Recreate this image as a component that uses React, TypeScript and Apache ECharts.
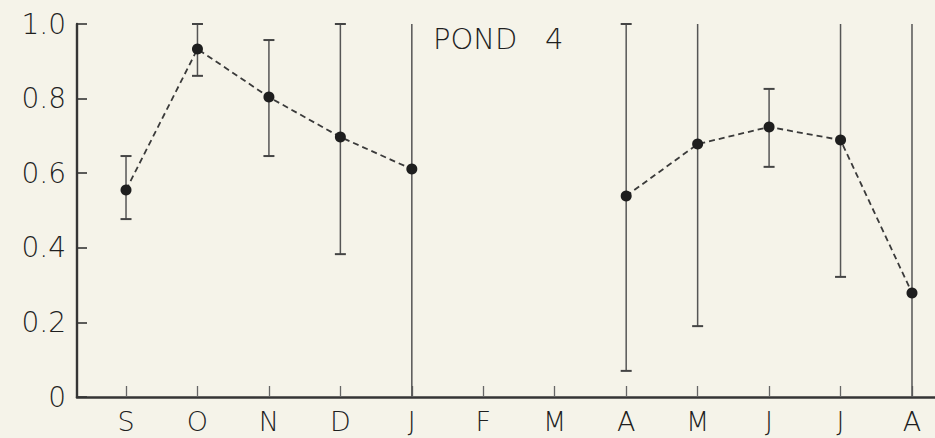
import React, { useEffect, useRef } from "react";
import * as echarts from "echarts";

const months = ["S", "O", "N", "D", "J", "F", "M", "A", "M", "J", "J", "A"];
const means: (number | null)[] = [0.555, 0.933, 0.804, 0.697, 0.611, null, null, 0.539, 0.678, 0.724, 0.689, 0.279];
const lows: (number | null)[] = [0.477, 0.861, 0.646, 0.383, 0, null, null, 0.07, 0.19, 0.617, 0.322, 0];
const highs: (number | null)[] = [0.646, 1.0, 0.957, 1.0, 1.0, null, null, 1.0, 1.0, 0.826, 1.0, 1.0];
const lowCaps = [true, true, true, true, false, false, false, true, true, true, true, false];
const highCaps = [true, true, true, true, false, false, false, true, false, true, false, false];
const yTicks = [0, 0.2, 0.4, 0.6, 0.8, 1.0];
const titleText = "POND   4";

const INK = "#353535";
const TEXT = "#1f1f1f";
const FONT = "DejaVu Sans";
const WEIGHT = 200;

export default function App() {
  const ref = useRef<HTMLDivElement>(null);
  useEffect(() => {
    document.body.style.margin = "0";
    document.body.style.background = "#f5f3e9";
    const chart = echarts.init(ref.current!, null, { renderer: "svg" });
    const lineData = means.map((v, i) => [i, v === null ? "-" : v]);
    const errData: any[] = [];
    months.forEach((_, i) => {
      if (lows[i] !== null && highs[i] !== null) {
        errData.push([i, lows[i], highs[i], lowCaps[i] ? 1 : 0, highCaps[i] ? 1 : 0]);
      }
    });
    chart.setOption({
      animation: false,
      backgroundColor: "#f5f3e9",
      title: {
        text: titleText,
        left: 428,
        top: 19,
        textStyle: { fontFamily: FONT, fontSize: 29, fontWeight: WEIGHT, color: TEXT },
      },
      grid: { left: 77, right: 0, top: 24, bottom: 41, containLabel: false },
      xAxis: {
        type: "value",
        min: -0.686,
        max: 11.322,
        splitLine: { show: false },
        axisLine: { show: true, onZero: false, lineStyle: { color: INK, width: 2.6 } },
        axisTick: {
          show: true,
          inside: true,
          length: 11,
          customValues: months.map((_, i) => i),
          lineStyle: { color: "#666", width: 1.3 },
        },
        axisLabel: {
          customValues: months.map((_, i) => i),
          formatter: (v: number) => months[Math.round(v)] ?? "",
          fontFamily: FONT,
          fontSize: 27,
          fontWeight: WEIGHT,
          color: TEXT,
          margin: 11,
        },
      },
      yAxis: {
        type: "value",
        min: 0,
        max: 1,
        interval: 0.2,
        splitLine: { show: false },
        axisLine: { show: true, onZero: false, lineStyle: { color: INK, width: 2.4 } },
        axisTick: { show: true, inside: true, length: 10, lineStyle: { color: INK, width: 1.6 } },
        axisLabel: {
          customValues: yTicks,
          formatter: (v: number) => (v === 0 ? "0" : v.toFixed(1)),
          fontFamily: FONT,
          fontSize: 28,
          fontWeight: WEIGHT,
          color: TEXT,
          margin: 11,
        },
      },
      series: [
        {
          type: "custom",
          z: 1,
          data: errData,
          renderItem: (params: any, api: any) => {
            const x = api.value(0);
            const lo = api.coord([x, api.value(1)]);
            const hi = api.coord([x, api.value(2)]);
            const capLo = api.value(3) === 1;
            const capHi = api.value(4) === 1;
            const hw = 5.5;
            const style = { stroke: "#555", lineWidth: 1.5 };
            const children: any[] = [
              { type: "line", shape: { x1: lo[0], y1: lo[1], x2: hi[0], y2: hi[1] }, style },
            ];
            if (capLo) children.push({ type: "line", shape: { x1: lo[0] - hw, y1: lo[1], x2: lo[0] + hw, y2: lo[1] }, style: { stroke: "#444", lineWidth: 2 } });
            if (capHi) children.push({ type: "line", shape: { x1: hi[0] - hw, y1: hi[1], x2: hi[0] + hw, y2: hi[1] }, style: { stroke: "#444", lineWidth: 2 } });
            return { type: "group", children };
          },
        },
        {
          type: "line",
          z: 3,
          data: lineData,
          connectNulls: false,
          symbol: "circle",
          symbolSize: 11,
          itemStyle: { color: "#1e1e1e" },
          lineStyle: { color: "#3a3a3a", width: 1.8, type: [6, 4] },
        },
      ],
    });
    return () => chart.dispose();
  }, []);
  return <div ref={ref} style={{ width: 935, height: 438 }} />;
}
